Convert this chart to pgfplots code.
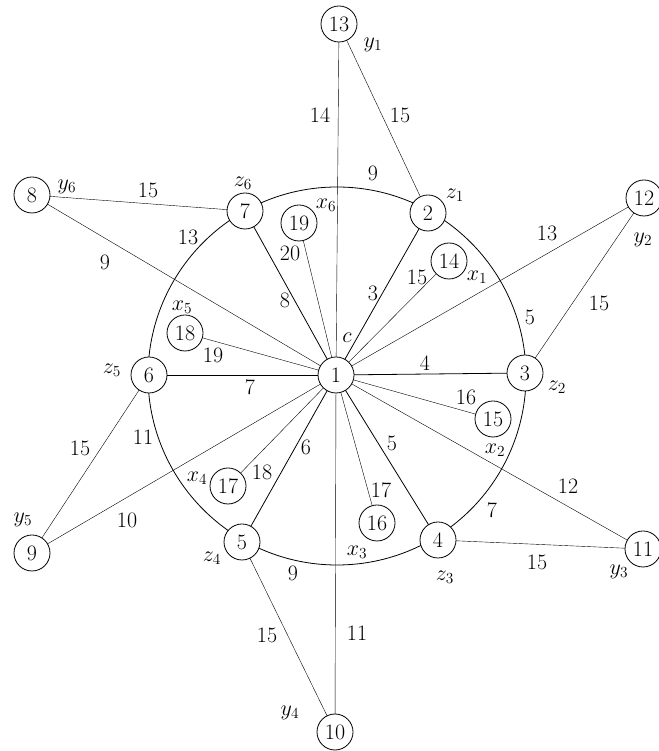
\RequirePackage{fix-cm}
\documentclass[border=0pt]{standalone}
\usepackage{pgfplots}
\pgfplotsset{compat=1.18}
\newcommand\lbl{\fontsize{22}{26}\selectfont}
\begin{document}
\begin{tikzpicture}
\begin{axis}[at={(0,0)}, anchor=south west, width=658pt, height=751pt, scale only axis,
  xmin=0, xmax=658, ymin=0, ymax=751, y dir=reverse, hide axis, clip=false, set layers,
  cycle list={{black, solid, line width=0.8pt, mark=none}}]
\begin{pgfonlayer}{axis background}
\draw[black, line width=0.8pt] (axis cs:337,376) circle[radius=189];
\end{pgfonlayer}
% edges
\addplot coordinates {(336,375) (339,24)};
\addplot coordinates {(339,24) (428,213)};
\addplot coordinates {(336,375) (428,213)};
\addplot coordinates {(336,375) (449,261)};
\addplot coordinates {(336,375) (644,198)};
\addplot coordinates {(644,198) (525,373)};
\addplot coordinates {(336,375) (525,373)};
\addplot coordinates {(336,375) (493,419)};
\addplot coordinates {(336,375) (643,549)};
\addplot coordinates {(643,549) (438,540)};
\addplot coordinates {(336,375) (438,540)};
\addplot coordinates {(336,375) (377,523)};
\addplot coordinates {(336,375) (335,732)};
\addplot coordinates {(335,732) (242,542)};
\addplot coordinates {(336,375) (242,542)};
\addplot coordinates {(336,375) (228,486)};
\addplot coordinates {(336,375) (32,553)};
\addplot coordinates {(32,553) (149,375)};
\addplot coordinates {(336,375) (149,375)};
\addplot coordinates {(336,375) (185,333)};
\addplot coordinates {(336,375) (32,195)};
\addplot coordinates {(32,195) (245,211)};
\addplot coordinates {(336,375) (245,211)};
\addplot coordinates {(336,375) (299,223)};
% vertices
\addplot[only marks, mark=*, mark size=18pt, mark options={fill=white, draw=black, line width=0.8pt},
  point meta=explicit symbolic, nodes near coords,
  every node near coord/.append style={anchor=center, inner sep=0pt, font=\lbl, text=black}]
  table[meta=lab] {
x y lab
336 375 1
428 213 2
525 373 3
438 540 4
242 542 5
149 375 6
245 211 7
32 195 8
32 553 9
335 732 10
643 549 11
644 198 12
339 24 13
449 261 14
493 419 15
377 523 16
228 486 17
185 333 18
299 223 19
};
% edge weights
\node[font=\lbl] at (axis cs:320,115) {14};
\node[font=\lbl] at (axis cs:400,115) {15};
\node[font=\lbl] at (axis cs:373,173) {9};
\node[font=\lbl] at (axis cs:290,253) {20};
\node[font=\lbl] at (axis cs:285,300) {8};
\node[font=\lbl] at (axis cs:373,293) {3};
\node[font=\lbl] at (axis cs:417,277) {15};
\node[font=\lbl] at (axis cs:547,233) {13};
\node[font=\lbl] at (axis cs:530,317) {5};
\node[font=\lbl] at (axis cs:599,303) {15};
\node[font=\lbl] at (axis cs:425,363) {4};
\node[font=\lbl] at (axis cs:466,397) {16};
\node[font=\lbl] at (axis cs:568,486) {12};
\node[font=\lbl] at (axis cs:492,510) {7};
\node[font=\lbl] at (axis cs:537,562) {15};
\node[font=\lbl] at (axis cs:392,443) {5};
\node[font=\lbl] at (axis cs:381,490) {17};
\node[font=\lbl] at (axis cs:357,633) {11};
\node[font=\lbl] at (axis cs:293,573) {9};
\node[font=\lbl] at (axis cs:267,635) {15};
\node[font=\lbl] at (axis cs:306,447) {6};
\node[font=\lbl] at (axis cs:262,472) {18};
\node[font=\lbl] at (axis cs:188,237) {13};
\node[font=\lbl] at (axis cs:148,190) {15};
\node[font=\lbl] at (axis cs:105,262) {9};
\node[font=\lbl] at (axis cs:213,355) {19};
\node[font=\lbl] at (axis cs:250,387) {7};
\node[font=\lbl] at (axis cs:80,448) {15};
\node[font=\lbl] at (axis cs:143,437) {11};
\node[font=\lbl] at (axis cs:127,520) {10};
% vertex names
\node[font=\lbl] at (axis cs:373,45) {$y_1$};
\node[font=\lbl] at (axis cs:455,195) {$z_1$};
\node[font=\lbl] at (axis cs:326,205) {$x_6$};
\node[font=\lbl] at (axis cs:243,183) {$z_6$};
\node[font=\lbl] at (axis cs:477,277) {$x_1$};
\node[font=\lbl] at (axis cs:643,240) {$y_2$};
\node[font=\lbl] at (axis cs:557,387) {$z_2$};
\node[font=\lbl] at (axis cs:495,450) {$x_2$};
\node[font=\lbl] at (axis cs:445,577) {$z_3$};
\node[font=\lbl] at (axis cs:619,572) {$y_3$};
\node[font=\lbl] at (axis cs:357,552) {$x_3$};
\node[font=\lbl] at (axis cs:212,558) {$z_4$};
\node[font=\lbl] at (axis cs:290,713) {$y_4$};
\node[font=\lbl] at (axis cs:197,478) {$x_4$};
\node[font=\lbl] at (axis cs:23,520) {$y_5$};
\node[font=\lbl] at (axis cs:112,370) {$z_5$};
\node[font=\lbl] at (axis cs:182,307) {$x_5$};
\node[font=\lbl] at (axis cs:67,187) {$y_6$};
\node[font=\lbl] at (axis cs:347,338) {$c$};
\end{axis}
\pgfresetboundingbox
\path[use as bounding box] (0,0) rectangle (658pt,751pt);
\end{tikzpicture}
\end{document}
